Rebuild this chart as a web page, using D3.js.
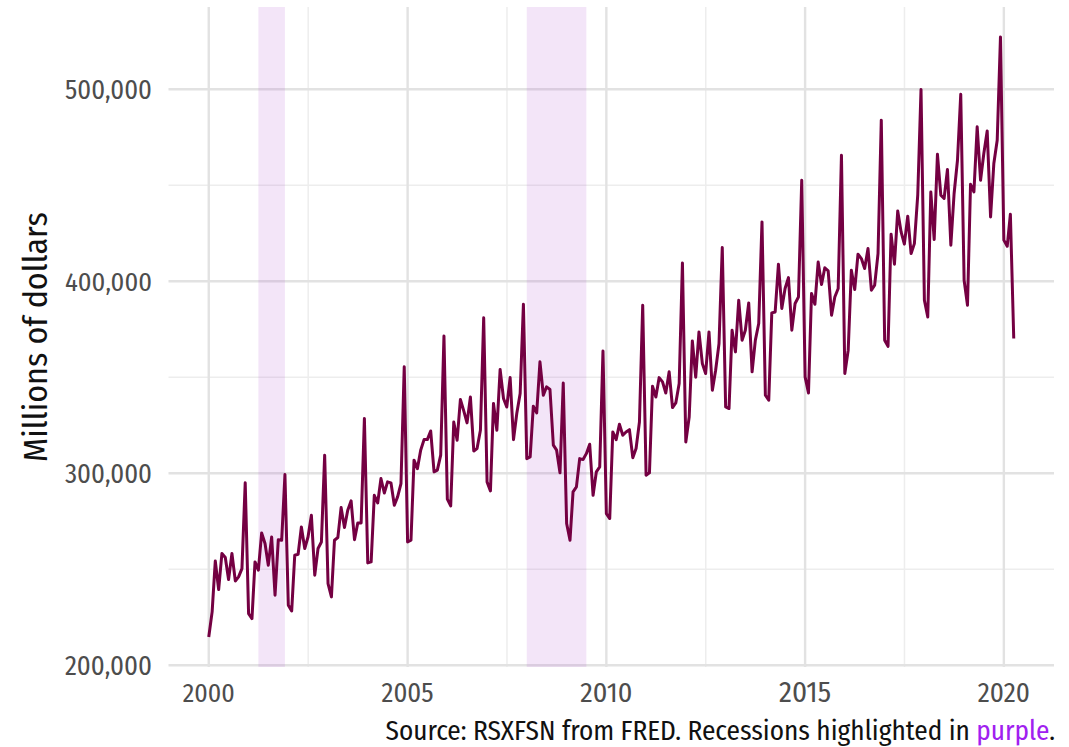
<!DOCTYPE html>
<html>
<head>
<meta charset="utf-8">
<script src="https://cdn.jsdelivr.net/npm/d3@7"></script>
<style>
  html, body { margin: 0; padding: 0; background: #ffffff; }
  svg { display: block; }
</style>
</head>
<body>
<svg id="chart" width="1069" height="747"></svg>
<script>
// ---- Data (millions of dollars, RSXFSN, monthly from Jan 2000) ----
const startMonth = "2000-01-01";
const sales = [
  // 2000
  214700, 227800, 254300, 239400, 258200, 256100, 244600, 258200, 243900, 246000, 250300, 295000,
  // 2001
  226900, 224300, 253800, 249500, 268900, 263400, 252100, 266800, 236500, 265400, 265100, 299300,
  // 2002
  231300, 228300, 257300, 257800, 272000, 260800, 266800, 278100, 246900, 260800, 264200, 309400,
  // 2003
  242500, 235600, 265100, 266500, 282100, 271700, 280700, 285600, 265400, 274100, 274100, 328500,
  // 2004
  253300, 253800, 288500, 284500, 297200, 289700, 295500, 295000, 283300, 287700, 294600, 355400,
  // 2005
  264200, 265100, 306800, 302400, 312000, 317500, 317500, 322000, 300700, 301600, 309400, 371500,
  // 2006
  286500, 283000, 326700, 317200, 338400, 332500, 326200, 339700, 311600, 312900, 322400, 381000,
  // 2007
  295500, 290800, 336300, 322400, 354000, 338900, 334500, 349800, 317500, 331100, 341500, 388000,
  // 2008
  307600, 308500, 334900, 331400, 358000, 340600, 345000, 343600, 314600, 312000, 300200, 347000,
  // 2009
  273800, 265100, 290300, 292900, 307600, 307100, 310200, 315100, 288500, 300700, 303300, 363700,
  // 2010
  279000, 276400, 321500, 317500, 325500, 319800, 321500, 322700, 308100, 312900, 326700, 387500,
  // 2011
  299000, 300200, 345300, 339700, 349800, 347600, 341800, 352800, 334200, 336600, 346700, 409500,
  // 2012
  316300, 329300, 368900, 350000, 373600, 357100, 351900, 373600, 343200, 353600, 367500, 417500,
  // 2013
  334500, 333700, 374500, 363200, 390100, 369300, 374500, 388700, 352800, 369300, 378000, 430900,
  // 2014
  340600, 338000, 383500, 384000, 408900, 385800, 396200, 401900, 374500, 388400, 391800, 452600,
  // 2015
  350200, 341800, 393600, 388000, 410000, 398300, 407000, 405400, 382300, 391800, 396200, 465600,
  // 2016
  351900, 364100, 405700, 395700, 414100, 411800, 406600, 417000, 395300, 397900, 414400, 483900,
  // 2017
  369300, 366100, 424500, 408900, 436600, 425700, 419300, 433900, 414400, 419600, 445000, 499800,
  // 2018
  390100, 381400, 446500, 421700, 466100, 444800, 443100, 458200, 418800, 445700, 463000, 497400,
  // 2019
  400500, 387500, 450500, 446500, 480400, 452600, 466500, 478300, 433500, 461300, 473400, 527200,
  // 2020
  421400, 418200, 434900, 370200
];

const recessionStarts = ["2001-04-01", "2008-01-01"];
const recessionEnds   = ["2001-12-01", "2009-07-01"];

const yMajorTicks = [200000, 300000, 400000, 500000];
const yMinorTicks = [250000, 350000, 450000];
const xMajorYears = [2000, 2005, 2010, 2015, 2020];
const xTickLabels = ["2000", "2005", "2010", "2015", "2020"];

const yTitle = "Millions of dollars";
const captionMain = "Source: RSXFSN from FRED. Recessions highlighted in ";
const captionHighlight = "purple";
const captionEnd = ".";

// ---- Layout / style ----
const panel = { left: 168.5, right: 1054, top: 7, bottom: 667 };
const lineColor = "#740042";
const gridMajor = "#e2e2e2";
const gridMinor = "#ededed";
const condFont = "'Fira Sans Condensed', 'Liberation Sans Narrow', 'DejaVu Sans Condensed', 'Roboto Condensed', sans-serif";

const parse = d3.utcParse("%Y-%m-%d");
const t0 = parse(startMonth);
const data = sales.map((v, i) => ({ date: d3.utcMonth.offset(t0, i), value: v }));

const svg = d3.select("#chart");

// scales with ggplot-like 5% expansion
const xExt = d3.extent(data, d => +d.date);
const xPad = (xExt[1] - xExt[0]) * 0.05;
const x = d3.scaleUtc()
  .domain([new Date(xExt[0] - xPad), new Date(xExt[1] + xPad)])
  .range([panel.left, panel.right]);

const yExt = d3.extent(data, d => d.value);
const yPad = (yExt[1] - yExt[0]) * 0.05;
const y = d3.scaleLinear()
  .domain([yExt[0] - yPad, yExt[1] + yPad])
  .range([panel.bottom, panel.top]);

const xMajorDates = xMajorYears.map(yr => new Date(Date.UTC(yr, 0, 1)));
const xMinorDates = d3.pairs(xMajorDates).map(([a, b]) => new Date((+a + +b) / 2));

const grid = svg.append("g");
// minor grid
grid.selectAll(".hminor").data(yMinorTicks).join("line")
  .attr("x1", panel.left).attr("x2", panel.right)
  .attr("y1", d => y(d)).attr("y2", d => y(d))
  .attr("stroke", gridMinor).attr("stroke-width", 1.5);
grid.selectAll(".vminor").data(xMinorDates).join("line")
  .attr("y1", panel.top).attr("y2", panel.bottom)
  .attr("x1", d => x(d)).attr("x2", d => x(d))
  .attr("stroke", gridMinor).attr("stroke-width", 1.5);
// major grid
grid.selectAll(".hmajor").data(yMajorTicks).join("line")
  .attr("x1", panel.left).attr("x2", panel.right)
  .attr("y1", d => y(d)).attr("y2", d => y(d))
  .attr("stroke", gridMajor).attr("stroke-width", 2.4);
grid.selectAll(".vmajor").data(xMajorDates).join("line")
  .attr("y1", panel.top).attr("y2", panel.bottom)
  .attr("x1", d => x(d)).attr("x2", d => x(d))
  .attr("stroke", gridMajor).attr("stroke-width", 2.4);

// recessions
svg.append("g").selectAll("rect")
  .data(recessionStarts.map((s, i) => ({ s: parse(s), e: parse(recessionEnds[i]) })))
  .join("rect")
  .attr("x", d => x(d.s)).attr("width", d => x(d.e) - x(d.s))
  .attr("y", panel.top).attr("height", panel.bottom - panel.top)
  .attr("fill", "#b04fd0").attr("fill-opacity", 0.15);

// line
svg.append("path")
  .datum(data)
  .attr("fill", "none")
  .attr("stroke", lineColor)
  .attr("stroke-width", 3)
  .attr("stroke-linejoin", "round")
  .attr("d", d3.line().x(d => x(d.date)).y(d => y(d.value)));

// fit helper
function fitWidth(sel, target) {
  const node = sel.node();
  const base = parseFloat(sel.attr("font-size"));
  const w = node.getComputedTextLength();
  if (w > 0) sel.attr("font-size", base * target / w);
  return sel;
}

// y tick labels
const fmt = d3.format(",");
const yLab = svg.append("g").selectAll("text").data(yMajorTicks).join("text")
  .attr("x", 152).attr("y", d => y(d))
  .attr("dy", "0.36em")
  .attr("text-anchor", "end")
  .attr("font-family", condFont)
  .attr("font-size", 20)
  .attr("fill", "#4d4d4d")
  .text(d => fmt(d));
yLab.each(function() { fitWidth(d3.select(this), 87); });

// x tick labels
const xLab = svg.append("g").selectAll("text").data(xMajorDates).join("text")
  .attr("x", d => x(d)).attr("y", 702)
  .attr("text-anchor", "middle")
  .attr("font-family", condFont)
  .attr("font-size", 20)
  .attr("fill", "#4d4d4d")
  .text((d, i) => xTickLabels[i]);
xLab.each(function() { fitWidth(d3.select(this), 52); });

// y title
const yt = svg.append("text")
  .attr("transform", `translate(47, ${(panel.top + panel.bottom) / 2}) rotate(-90)`)
  .attr("text-anchor", "middle")
  .attr("font-family", condFont)
  .attr("font-size", 20)
  .attr("fill", "#111")
  .text(yTitle);
fitWidth(yt, 250);

// caption
const cap = svg.append("text")
  .attr("x", 1055).attr("y", 740)
  .attr("text-anchor", "end")
  .attr("font-family", condFont)
  .attr("font-size", 20)
  .attr("fill", "#111");
cap.append("tspan").text(captionMain);
cap.append("tspan").attr("fill", "#a020f0").text(captionHighlight);
cap.append("tspan").text(captionEnd);
fitWidth(cap, 670);
</script>
</body>
</html>
